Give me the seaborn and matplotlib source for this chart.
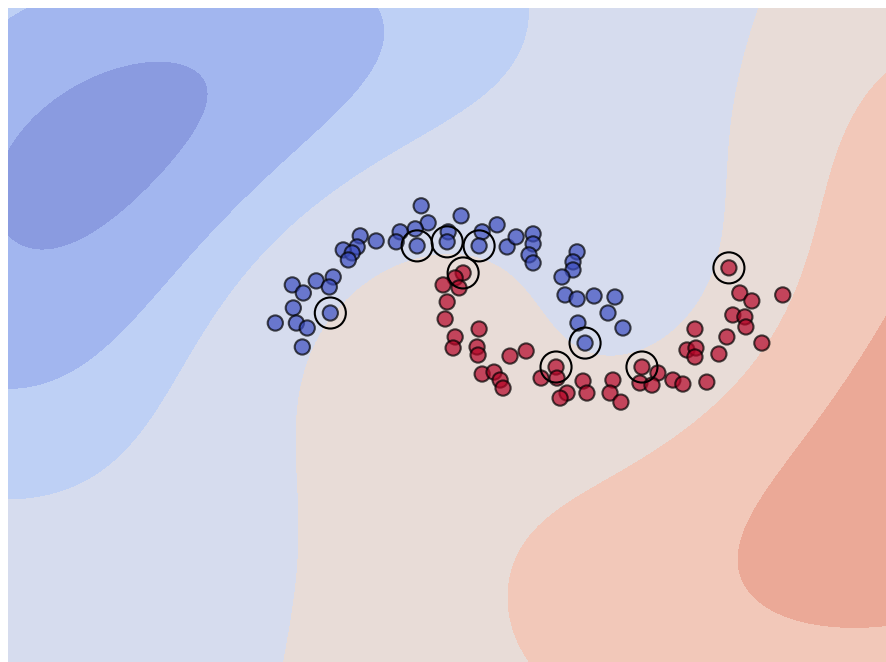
import numpy as np
import pandas as pd
import matplotlib
matplotlib.use("Agg")
import matplotlib.pyplot as plt
import seaborn as sns

# two-moons sample: class 0 (upper moon) and class 1 (lower moon)
blue_x = [-0.147, 0.088, -0.106, -0.182, -0.271, -0.294, -0.171, 0.012, 0.006, 0.212, 0.194, 0.300, 0.359, 0.412, 0.512, 0.512, 0.488, 0.512, 0.771, 0.747, 0.747, 0.682, 0.700, 0.771, 0.871, 0.994, 0.953, 1.041, 0.776, 0.818, -0.506, -0.412, -0.524, -0.606, -0.553, -0.576, -0.665, -0.765, -0.688, -0.906, -0.841, -0.900, -0.682, -1.006, -0.882, -0.818, -0.847]
blue_y = [1.122, 1.035, 0.974, 0.922, 0.896, 0.809, 0.774, 0.896, 0.809, 0.896, 0.774, 0.957, 0.765, 0.852, 0.878, 0.791, 0.696, 0.626, 0.722, 0.635, 0.565, 0.504, 0.348, 0.313, 0.339, 0.330, 0.191, 0.061, 0.104, -0.070, 0.861, 0.817, 0.765, 0.739, 0.713, 0.652, 0.504, 0.470, 0.417, 0.435, 0.365, 0.235, 0.191, 0.104, 0.104, 0.061, -0.104]
blue_sv = [0, 0, 0, 0, 0, 0, 1, 0, 1, 0, 1, 0, 0, 0, 0, 0, 0, 0, 0, 0, 0, 0, 0, 0, 0, 0, 0, 0, 0, 1, 0, 0, 0, 0, 0, 0, 0, 0, 0, 0, 0, 0, 1, 0, 0, 0, 0]
red_x = [0.100, 0.053, -0.018, 0.076, 0.006, -0.006, 0.053, 0.041, 0.194, 0.182, 0.188, 0.376, 0.471, 0.212, 0.282, 0.318, 0.335, 0.647, 0.653, 0.559, 0.712, 0.671, 0.806, 0.829, 0.982, 0.965, 1.029, 1.153, 1.247, 1.141, 1.212, 1.335, 1.394, 1.535, 1.465, 1.418, 1.471, 1.465, 1.606, 1.653, 1.688, 1.759, 1.765, 1.859, 1.665, 1.729, 1.800, 1.982]
red_y = [0.539, 0.496, 0.435, 0.409, 0.287, 0.139, -0.017, -0.113, 0.052, -0.104, -0.174, -0.183, -0.139, -0.339, -0.322, -0.391, -0.461, -0.278, -0.374, -0.374, -0.504, -0.548, -0.400, -0.504, -0.391, -0.504, -0.583, -0.278, -0.330, -0.417, -0.435, -0.391, -0.426, -0.409, 0.052, -0.130, -0.113, -0.191, -0.165, -0.017, 0.174, 0.157, 0.070, -0.070, 0.583, 0.365, 0.296, 0.348]
red_sv = [1, 0, 0, 0, 0, 0, 0, 0, 0, 0, 0, 0, 0, 0, 0, 0, 0, 1, 0, 0, 0, 0, 0, 0, 0, 0, 0, 1, 0, 0, 0, 0, 0, 0, 0, 0, 0, 0, 0, 0, 0, 0, 0, 0, 1, 0, 0, 0]

# filled-contour bands of the decision function
levels = [-1000, -29, -20, -12, 0, 8, 19, 27, 1000]
band_colors = ["#8a9be0", "#a2b6ef", "#bed0f5", "#d6dcee",
               "#e8dcd7", "#f2c8b9", "#eba997", "#d98282"]

df = pd.DataFrame({
    "x1": blue_x + red_x,
    "x2": blue_y + red_y,
    "label": [0] * len(blue_x) + [1] * len(red_x),
    "support": np.array(blue_sv + red_sv, dtype=bool),
})

# RBF-kernel SVM (bias folded into the kernel), solved by dual coordinate ascent
GAMMA, C = 0.2, 1000.0
X = df[["x1", "x2"]].to_numpy()
t = np.where(df["label"] == 1, 1.0, -1.0)

def kernel(A, B):
    return np.exp(-GAMMA * ((A[:, None] - B[None]) ** 2).sum(-1)) + 1.0

Q = kernel(X, X) * t[:, None] * t[None]
alpha = np.zeros(len(t))
for _ in range(3000):
    for i in range(len(t)):
        alpha[i] = np.clip(alpha[i] + (1 - Q[i] @ alpha) / Q[i, i], 0, C)

def decision(P):
    return kernel(P, X) @ (alpha * t)

xx, yy = np.meshgrid(np.linspace(-2.58, 2.59, 400), np.linspace(-2.84, 2.84, 400))
Z = decision(np.c_[xx.ravel(), yy.ravel()]).reshape(xx.shape)

fig = plt.figure(figsize=(8.86, 6.62), dpi=100)
ax = fig.add_axes([8 / 886, 0, 878 / 886, 654 / 662])
ax.contourf(xx, yy, Z, levels=levels, colors=band_colors)
sns.scatterplot(data=df, x="x1", y="x2", hue="label", palette=["#3b4cc0", "#b40426"],
                s=120, edgecolor="k", linewidth=1.5, alpha=0.7, legend=False, ax=ax)
sv = df[df["support"]]
ax.scatter(sv["x1"], sv["x2"], s=500, facecolors="none", edgecolors="k", linewidths=1.5)
ax.set_xlim(-2.58, 2.59)
ax.set_ylim(-2.84, 2.84)
ax.axis("off")
fig.savefig("out.png")
